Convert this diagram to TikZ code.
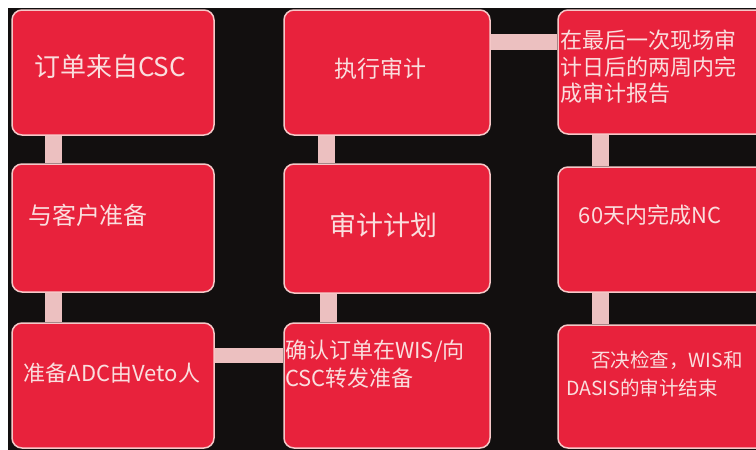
\documentclass[tikz,border=0pt]{standalone}
\usepackage{fontspec}
\setmainfont{Noto Sans CJK SC}
\usetikzlibrary{backgrounds}
\definecolor{boxred}{RGB}{232,34,60}
\definecolor{boxline}{RGB}{245,200,200}
\definecolor{connc}{RGB}{236,192,192}
\definecolor{txtc}{RGB}{250,222,222}
\definecolor{bgblack}{RGB}{18,15,15}
\tikzset{
  stepbox/.style={draw=boxline, line width=1.5pt, fill=boxred, rounded corners=10pt, inner sep=0pt},
  conn/.style={draw=connc, line width=17pt},
  txt/.style={text=txtc, inner sep=0pt}
}
\begin{document}
\begin{tikzpicture}[x=1pt,y=-1pt]
\useasboundingbox (0,0) rectangle (756,450);
\clip (0,0) rectangle (756,450);
% boxes
\node[stepbox, minimum width=202pt, minimum height=125pt] (a1) at (113,72.5) {};
\node[stepbox, minimum width=206pt, minimum height=125pt] (b1) at (387,72.5) {};
\node[stepbox, minimum width=217pt, minimum height=124pt] (c1) at (666.5,72) {};
\node[stepbox, minimum width=202pt, minimum height=128pt] (a2) at (113,228) {};
\node[stepbox, minimum width=206pt, minimum height=129pt] (b2) at (387,228.5) {};
\node[stepbox, minimum width=217pt, minimum height=125pt] (c2) at (666.5,229.5) {};
\node[stepbox, minimum width=202pt, minimum height=125pt] (a3) at (113,385.5) {};
\node[stepbox, minimum width=206pt, minimum height=125pt] (b3) at (387,385.5) {};
\node[stepbox, minimum width=217pt, minimum height=123pt] (c3) at (666.5,386.5) {};
% background and connectors
\begin{scope}[on background layer]
\fill[white] (0,0) rectangle (756,450);
\fill[bgblack] (8,8) rectangle (760,455);
\draw[conn] (a1.south -| 53.5,0) -- (a2.north -| 53.5,0);
\draw[conn] (a2.south -| 53.5,0) -- (a3.north -| 53.5,0);
\draw[conn] (b1.south -| 326.5,0) -- (b2.north -| 326.5,0);
\draw[conn] (b2.south -| 328.5,0) -- (b3.north -| 328.5,0);
\draw[conn] (c1.south -| 600.5,0) -- (c2.north -| 600.5,0);
\draw[conn] (c2.south -| 600.5,0) -- (c3.north -| 600.5,0);
\draw[conn, line width=16pt] (b1.east |- 0,41.5) -- (c1.west |- 0,41.5);
\draw[conn, line width=15pt] (a3.east |- 0,355.5) -- (b3.west |- 0,355.5);
\end{scope}
% texts
\node[txt, font=\fontsize{26}{30}\selectfont] (t1) at (110,67) {订单来自CSC};
\node[txt, font=\fontsize{23}{27}\selectfont] (t2) at (380,69) {执行审计};
\node[txt, anchor=west, align=left, font=\fontsize{22}{26.5}\selectfont] (t3) at (560,67) {在最后一次现场审\\计日后的两周内完\\成审计报告};
\node[txt, font=\fontsize{24}{28}\selectfont] (t4) at (88,215) {与客户准备};
\node[txt, font=\fontsize{27}{31}\selectfont] (t5) at (383,225) {审计计划};
\node[txt, font=\fontsize{22}{26}\selectfont] (t6) at (650,215) {60天内完成NC};
\node[txt, font=\fontsize{22}{26}\selectfont] (t7) at (112,373) {准备ADC由Veto人};
\node[txt, anchor=west, align=left, font=\fontsize{22}{28}\selectfont] (t8) at (285,364) {确认订单在WIS/向\\CSC转发准备};
\node[txt, anchor=west, align=left, font=\fontsize{19.5}{28}\selectfont] (t9) at (566,374) {\hspace*{25pt}否决检查，WIS和\\DASIS的审计结束};
\end{tikzpicture}
\end{document}
